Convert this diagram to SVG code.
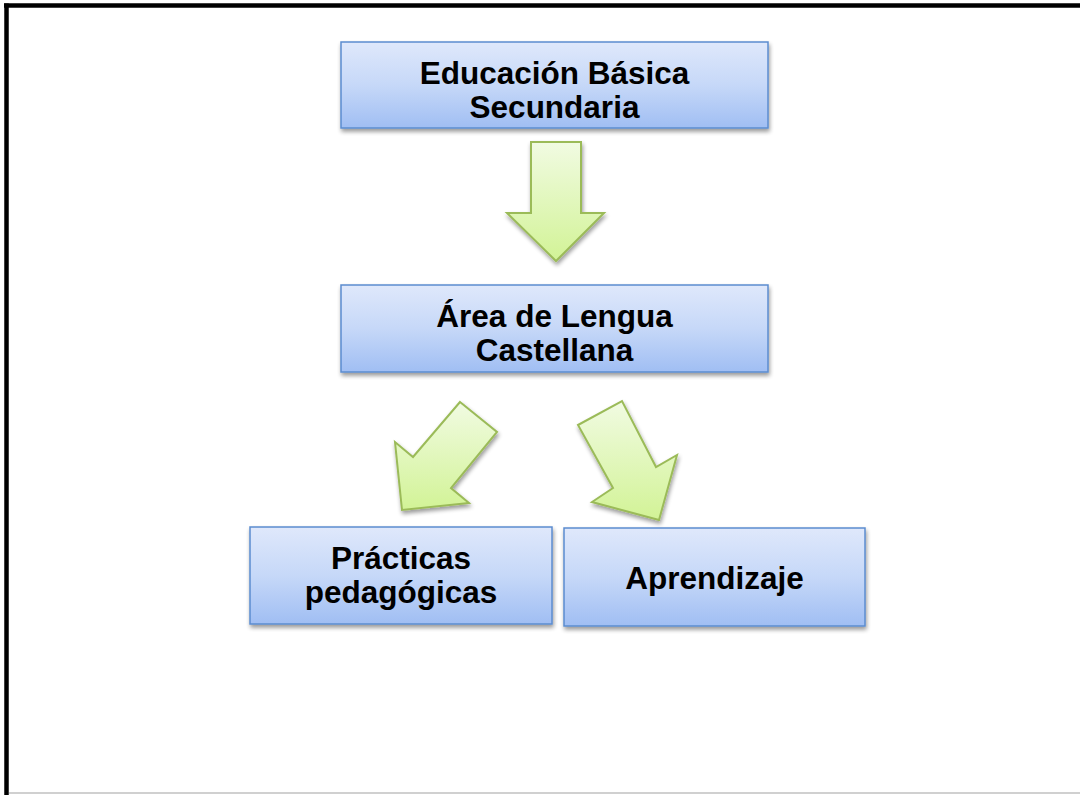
<svg xmlns="http://www.w3.org/2000/svg" width="1080" height="795" viewBox="0 0 1080 795">
  <defs>
    <linearGradient id="boxGrad" x1="0" y1="0" x2="0" y2="1">
      <stop offset="0" stop-color="#dfe8fb"/>
      <stop offset="0.5" stop-color="#c6d8f8"/>
      <stop offset="1" stop-color="#a0bef3"/>
    </linearGradient>
    <linearGradient id="arrowGrad" x1="0" y1="0" x2="0" y2="1">
      <stop offset="0" stop-color="#f1fbe2"/>
      <stop offset="1" stop-color="#d2f396"/>
    </linearGradient>
    <filter id="shadow" x="-10%" y="-10%" width="120%" height="130%">
      <feGaussianBlur in="SourceAlpha" stdDeviation="2"/>
      <feOffset dx="1" dy="3" result="b"/>
      <feComponentTransfer><feFuncA type="linear" slope="0.4"/></feComponentTransfer>
      <feMerge><feMergeNode/><feMergeNode in="SourceGraphic"/></feMerge>
    </filter>
    <style>
      .box { fill: url(#boxGrad); stroke: #5b8ccf; stroke-width: 1.5; filter: url(#shadow); }
      .arrow { fill: url(#arrowGrad); stroke: #9bbb59; stroke-width: 2; stroke-linejoin: miter; filter: url(#shadow); }
      .label { font-family: "Liberation Sans", Arial, sans-serif; font-weight: bold; font-size: 31.5px; fill: #000; text-anchor: middle; }
    </style>
  </defs>
  <rect x="0" y="0" width="1080" height="795" fill="#ffffff"/>
  <g id="frame">
    <line x1="4" y1="5.5" x2="1080" y2="5.5" stroke="#000" stroke-width="4.5"/>
    <line x1="6.5" y1="3.5" x2="6.5" y2="795" stroke="#000" stroke-width="4.5"/>
    <line x1="9" y1="793" x2="1080" y2="793" stroke="#c0c0c0" stroke-width="1.5"/>
  </g>
  <g id="connectors">
    <polygon class="arrow" points="531,142 581,142 581,213 604,213 556,261 507,213 531,213"/>
    <polygon class="arrow" points="460,402 497,432 451,488 469,503 402,510 395,442 413,457"/>
    <polygon class="arrow" points="578,425 622,401 656,467 677,455 659,520 592,502 613,488"/>
  </g>
  <g id="node-educacion">
    <rect class="box" x="341" y="42" width="427" height="86"/>
    <text class="label" x="554.5" y="84">Educación Básica</text>
    <text class="label" x="554.5" y="118">Secundaria</text>
  </g>
  <g id="node-area">
    <rect class="box" x="341" y="285" width="427" height="87"/>
    <text class="label" x="554.5" y="327">Área de Lengua</text>
    <text class="label" x="554.5" y="361">Castellana</text>
  </g>
  <g id="node-practicas">
    <rect class="box" x="250" y="527" width="302" height="97"/>
    <text class="label" x="401" y="569">Prácticas</text>
    <text class="label" x="401" y="603">pedagógicas</text>
  </g>
  <g id="node-aprendizaje">
    <rect class="box" x="564" y="528" width="301" height="98"/>
    <text class="label" x="714.5" y="589">Aprendizaje</text>
  </g>
</svg>
